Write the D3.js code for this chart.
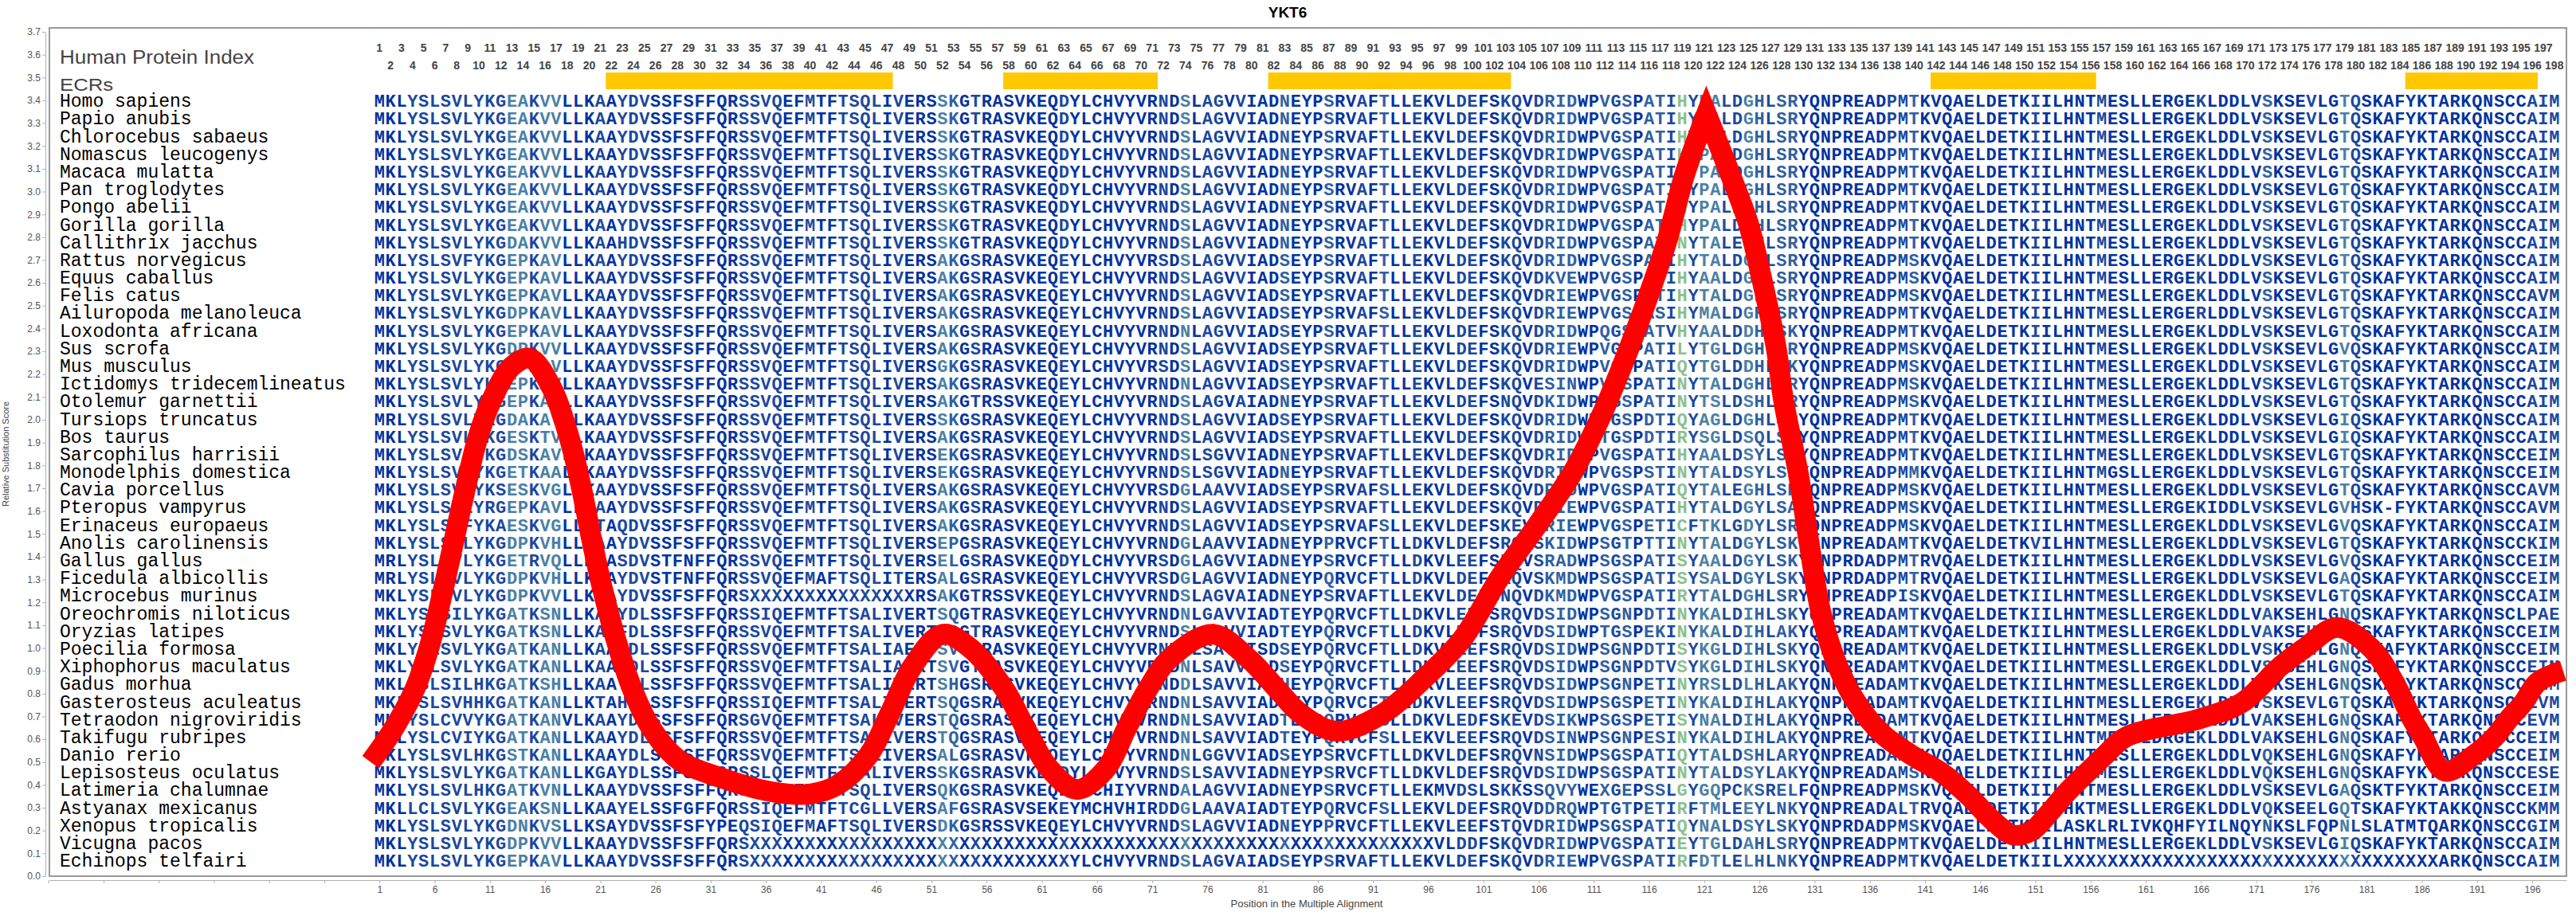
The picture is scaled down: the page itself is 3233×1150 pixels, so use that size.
<!DOCTYPE html>
<html><head><meta charset="utf-8">
<script src="https://cdn.jsdelivr.net/npm/d3@7"></script>
<style>body{margin:0;background:#fff}</style>
</head><body>
<svg id="chart" width="3233" height="1150" xmlns="http://www.w3.org/2000/svg"></svg>
<script>
const chartTitle = "YKT6";
const xAxisTitle = "Position in the Multiple Alignment";
const yAxisTitle = "Relative Substitution Score";

const species = ["Homo sapiens","Papio anubis","Chlorocebus sabaeus","Nomascus leucogenys","Macaca mulatta",
"Pan troglodytes","Pongo abelii","Gorilla gorilla","Callithrix jacchus","Rattus norvegicus","Equus caballus",
"Felis catus","Ailuropoda melanoleuca","Loxodonta africana","Sus scrofa","Mus musculus","Ictidomys tridecemlineatus",
"Otolemur garnettii","Tursiops truncatus","Bos taurus","Sarcophilus harrisii","Monodelphis domestica","Cavia porcellus",
"Pteropus vampyrus","Erinaceus europaeus","Anolis carolinensis","Gallus gallus","Ficedula albicollis","Microcebus murinus",
"Oreochromis niloticus","Oryzias latipes","Poecilia formosa","Xiphophorus maculatus","Gadus morhua","Gasterosteus aculeatus",
"Tetraodon nigroviridis","Takifugu rubripes","Danio rerio","Lepisosteus oculatus","Latimeria chalumnae","Astyanax mexicanus",
"Xenopus tropicalis","Vicugna pacos","Echinops telfairi"];

const H1 = "MKLYSLSVLYKGEAKVVLLKAAYDVSSFSFFQRSSVQEFMTFTSQLIVE";
const H2 = "RSSKGTRASVKEQDYLCHVYVRNDSLAGVVIADNEYPSRVAFTLLEKVLD";
const H3 = "EFSKQVDRIDWPVGSPATIHYPALDGHLSRYQNPREADPMTKVQAELDE";
const H4 = "TKIILHNTMESLLERGEKLDDLVSKSEVLGTQSKAFYKTARKQNSCCAIM";
const HUMAN = H1 + H2 + H3 + H4;

const sequences = [
HUMAN, HUMAN, HUMAN, HUMAN, HUMAN, HUMAN, HUMAN, HUMAN,
"MKLYSLSVLYKGDAKVVLLKAAHDVSSFSFFQRSSVQEFMTFTSQLIVE" + H2 + "EFSKQVDRIDWPVGSPATINYTALEGHLSRYQNPREADPMTKVQAELDE" + H4,
"MKLYSLSVFYKGEPKAVLLKAAYDVSSFSFFQRSSVQEFMTFTSQLIVE" + "RSAKGSRASVKEQEYLCHVYVRSDSLAGVVIADSEYPSRVAFTLLEKVLD" + "EFSKQVDRIDWPVGSPATIHYTALDGHLSRYQNPREADPMSKVQAELDE" + H4,
"MKLYSLSVLYKGEPKAVLLKAAYDVSSFSFFQRSSVQEFMTFTSQLIVE" + "RSAKGSRASVKEQEYLCHVYVRNDSLAGVVIADSEYPSRVAFTLLEKVLD" + "EFSKQVDKVEWPVGSPATIHYAALDGHLSRYQNPREADPMSKVQAELDE" + H4,
"MKLYSLSVLYKGEPKAVLLKAAYDVSSFSFFQRSSVQEFMTFTSQLIVE" + "RSAKGSRASVKEQEYLCHVYVRNDSLAGVVIADSEYPSRVAFTLLEKVLD" + "EFSKQVDRIEWPVGSPATIHYTALDGHLSRYQNPREADPMSKVQAELDE" + "TKIILHNTMESLLERGEKLDDLVSKSEVLGTQSKAFYKTARKQNSCCAVM",
"MKLYSLSVLYKGDPKAVLLKAAYDVSSFSFFQRSSVQEFMTFTSQLIVE" + "RSAKGSRASVKEQEYLCHVYVRNDSLAGVVIADSEYPSRVAFSLLEKVLD" + "EFSKQVDRIEWPVGSPASIHYMALDGHLSRYQNPREADPMTKVQAELDE" + "TKIILHNTMESLLERGERLDDLVSKSEVLGTQSKAFYKTARKQNSCCAIM",
"MKLYSLSVLYKGEPKAVLLKAAYDVSSFSFFQRSSVQEFMTFTSQLIVE" + "RSAKGSRASVKEQEYLCHVYVRNDNLAGVVIADSEYPSRVAFTLLEKVLD" + "EFSKQVDRIDWPQGSPATVHYAALDDHLSKYQNPREADPMTKVQAELDE" + H4,
"MKLYSLSVLYKGDPKVVLLKAAYDVSSFSFFQRSSVQEFMTFTSQLIVE" + "RSAKGSRASVKEQEYLCHVYVRNDSLAGVVIADSEYPSRVAFTLLEKVLD" + "EFSKQVDRIEWPVGSPATILYTGLDGHLSRYQNPREADPMSKVQAELDE" + "TKIILHNTMESLLERGEKLDDLVSKSEVLGVQSKAFYKTARKQNSCCAIM",
"MKLYSLSVLYKGDPKAVLLKAAYDVSSFSFFQRSSVQEFMTFTSQLIVE" + "RSGKGSRASVKEQEYLCHVYVRSDSLAGVVIADSEYPSRVAFTLLEKVLD" + "EFSKQVDRIDWPVGSPATIQYTGLDDHLSKYQNPREADPMSKVQAELDE" + H4,
"MKLYSLSVLYKSEPKAVLLKAAYDVSSFSFFQRSSVQEFMTFTSQLIVE" + "RSAKGSRASVKEQEYLCHVYVRNDNLAGVVIADSEYPSRVAFTLLEKVLD" + "EFSKQVESINWPVGSPATINYTALDGHLSRYQNPREADPMSKVQAELDE" + H4,
"MKLYSLSVLYKGEPKAVLLKAAYDVSSFSFFQRSSVQEFMTFTSQLIVE" + "RSAKGTRSSVKEQEYLCHVYVRNDSLAGVAIADNEYPSRVAFTLLEKVLD" + "EFSNQVDKIDWPVGSPATINYTSLDSHLSRYQNPREADPMSKVQAELDE" + H4,
"MRLYSLSVLYKGDAKAVLLKAAYDVSSFSFFQRSSVQEFMTFTSQLIVE" + "RSSKGSRASVKEQEYLCHVYVRNDSLAGVVIADSEYPSRVAFTLLEKVLD" + "EFSKQVDRIDWPVGSPDTIQYAGLDGHLSRYQNPREADPMTKVQAELDE" + "TKIILHNTMESLLERGEKLDDLVSKSEVLGIQSKAFYKTARKQNSCCAIM",
"MKLYSLSVLYKGESKTVLLKAAYDVSSFSFFQRSSVQEFMTFTSQLIVE" + "RSAKGSRASVKEQEYLCHVYVRNDSLAGVVIADSEYPSRVAFTLLEKVLD" + "EFSKQVDRIDWPTGSPDTIRYSGLDSQLSRYQNPREADPMTKVQAELDE" + "TKIILHNTMESLLERGEKLDDLVSKSEVLGIQSKAFYKTARKQNSCCAIM",
"MKLYSLSVLYKGDSKAVLLKAAYDVSSFSFFQRSSVQEFMTFTSQLIVE" + "RSEKGSRASVKEQEYLCHVYVRNDSLSGVVIADNEYPSRVAFTLLEKVLD" + "EFSKQVDRIDWPVGSPATIHYAALDSYLSRYQNPREADPMTKVQAELDE" + "TKIILHNTMESLLERGEKLDDLVSKSEVLGTQSKAFYKTARKQNSCCEIM",
"MKLYSLSVLYKGETKAALLKAAYDVSSFSFFQRSSVQEFMTFTSQLIVE" + "RSEKGSRASVKEQEYLCHVYVRNDSLSGVVIADNEYPSRVAFTLLEKVLD" + "EFSKQVDRIDWPVGSPSTINYTALDSYLSRYQNPREADPMMKVQAELDE" + "TKIILHNTMGSLLERGEKLDDLVSKSEVLGTQSKAFYKTARKQNSCCEIM",
"MKLYSLSVLYKSESKVGLLKAAYDVSSFSFFQRSSVQEFMTFTSQLIVE" + "RSAKGSRASVKEQEYLCHVYVRSDGLAAVVIADSEYPSRVAFSLLEKVLD" + "EFSKQVDRIDWPVGSPATIQYTALEGHLSRYQNPREADPMSKVQAELDE" + "TKIILHNTMESLLERGEKLDDLVSKSEVLGTQSKAFYKTARKQNSCCAVM",
"MKLYSLSVLYRGEPKAVLLKAAYDVSSFSFFQRSSVQEFMTFTSQLIVE" + "RSAKGSRASVKEQEYLCHVYVRNDSLAGVVIADSEYPSRVAFTLLEKVLD" + "EFSKQVDRIEWPVGSPATIHYTALDGYLSAYQNPREADPMSKVQAELDE" + "TKIILHNTMESLLERGEKIDDLVSKSEVLGVHSK-FYKTARKQNSCCAVM",
"MKLYSLSVFYKAESKVGLLKTAQDVSSFSFFQRSSVQEFMTFTSQLIVE" + "RSAKGSRASVKEQEYLCHVYVRNDSLAGVVIADSEYPSRVAFSLLEKVLD" + "EFSKEVDRIEWPVGSPETICFTKLGDYLSRYQNPREADPMSKVQAELDE" + "TKIILHNTMESLLERGEKLDDLVSKSEVLGVQSKAFYKTARKQNSCCAIM",
"MKLYSLSVLYKGDPKVHLLKAAYDVSSFSFFQRSSVQEFMTFTSQLIVE" + "RSEPGSRASVKEQEYLCHVYVRNDGLAAVVIADNEYPPRVCFTLLDKVLD" + "EFSRQVSKIDWPSGTPTTINYTALDGYLSKYQNPREADAMTKVQAELDE" + "TKVILHNTMESLLERGEKLDDLVSKSEVLGTQSKAFYKTARKQNSCCKIM",
"MRLYSLSVLYKGETRVQLLKAASDVSTFNFFQRSSVQEFMTFTSQLIVE" + "RSELGSRASVKEQDYLCHVYVRSDGLAGVVIADNEYPSRVCFTLLDKVLE" + "EFSRQVSRADWPSGSPATISYAALDGYLSKYQNPRDADPMTRVQAELDE" + "TKIILHNTMESLLERGEKLDDLVSKSEVLGVQSKAFYKTARKQNSCCEIM",
"MRLYSLSVLYKGDPKVHLLKAAYDVSTFNFFQRSSVQEFMAFTSQLITE" + "RSALGSRASVKEQEYLCHVYVRSDGLAGVVIADNEYPQRVCFTLLDKVLD" + "EFSRQVSKMDWPSGSPATISYSALDGYLSKYQNPRDADPMTRVQAELDE" + "TKIILHNTMESLLERGEKLDDLVSKSEVLGAQSKAFYKTARKQNSCCEIM",
"MKLYSLSVLYKGDPKVVLLKAAYDVSSFSFFQRS" + "XXXXXXXXXXXXXXX" + "RSAKGTRSSVKEQEYLCHVYVRNDSLAGVAIADNEYPSRVAFTLLEKVLD" + "EFSNQVDKMDWPVGSPATIRYTALDGHLSRYQNPREADPISKVQAELDE" + H4,
"MKLYSLSILYKGATKSNLLKAAYDLSSFSFFQRSSIQEFMTFTSALIVE" + "RTSQGTRASVKEQEYLCHVYVRNDNLGAVVIADTEYPQRVCFTLLDKVLE" + "EFSRQVDSIDWPSGNPDTINYKALDIHLSKYQNPREADAMTKVQAELDE" + "TKIILHNTMESLLERGEKLDDLVAKSEHLGNQSKAFYKTARKQNSCLPAE",
"MKLYSLSVLYKGATKSNLLKAAFDLSSFSFFQRSSVQEFMTFTSALIVE" + "RTSQGTRASVKEQEYLCHVYVRNDSLGAVVIADTEYPQRVCFTLLDKVLD" + "EFSRQVDSIDWPTGSPEKINYKALDIHLAKYQNPREADAMTKVQAELDE" + "TKIILHNTMESLLERGEKLDDLVAKSEHLGNQSKAFYKTARKQNSCCEIM",
"MKLYSLSVLYKGATKANLLKAAYDLSSFSFFQRSSVQEFMTFTSALIAE" + "RTSVGTRASVKEQEYLCHVYVRNDNLSAVVISDSEYPQRVCFTLLDKVLE" + "EFSRQVDSIDWPSGNPDTISYKGLDIHLSKYQNPREADAMTKVQAELDE" + "TKIILHNTMESLLERGEKLDDLVSKSEHLGNQSKAFYKTARKQNSCCEIM",
"MKLYSLSVLYKGATKANLLKAAYDLSSFSFFQRSSVQEFMTFTSALIAE" + "RTSVGTRASVKEQEYLCHVYVRNDNLSAVVISDSEYPQRVCFTLLDKVLE" + "EFSRQVDSIDWPSGNPDTVSYKGLDIHLSKYQNPREADAMTKVQAELDE" + "TKIILHNTMESLLERGEKLDDLVSKSEHLGNQSKAFYKTARKQNSCCEIM",
"MKLFSLSILHKGATKSHLLKAAYDLSSFSFFQRSSVQEFMTFTSALIVE" + "RTSHGSRASVKEQEYLCHVYVRNDDLSAVVIADHEYPQRVCFTLLDKVLE" + "EFSRQVDSIDWPSGNPETINYRSLDLHLAKYQNPKEADAMTKVQAELDE" + "TKIILHNTMESLLERGEKLDDLVAKSEHLGNQSKAFYKTARKQNSCCEIM",
"MKLYSLSVHHKGATKANLLKTAHDLSSFSFFQRSSIQEFMTFTSALIVE" + "RTSQGSRASVKEQEYLCHVYVRNDNLSAVVIADTEYPQRVCFTLLDKVLE" + "EFSRQVDSIDWPSGSPETINYKALDIHLAKYQNPREADAMTKVQAELDE" + "TKIILHNTMESLLERGEKLDDLVSKSEVLGTQSKAFYKTARKQNSCCEVM",
"MKLYSLCVVYKGATKANVLKAAYDLSSFSFFQRSGVQEFMTFTSALIVE" + "RSTQGSRASVKEQEYLCHVYVRNDNLSAVVIADTEYPQRVCFSLLDKVLE" + "DFSKEVDSIKWPSGSPETISYNALDIHLAKYQNPREADAMTKVQAELDE" + "TKIILHNTMESLLERGEKLDDLVAKSEHLGNQSKAFYKTARKQNSCCEVM",
"MKLYSLCVIYKGATKANLLKAAYDLSSFSFFQRSSVQEFMTFTSALIVE" + "RSTQGSRASVKEQEYLCHVYVRNDNLSAVVIADTEYPQRVCFSLLEKVLE" + "EFSRQVDSINWPSGNPESINYKALDIHLAKYQNPREADAMTKVQAELDE" + "TKIILHNTMESLLDRGEKLDDLVAKSEHLGNQSKAFYKTARKQNSCCEIM",
"MKLYSLSVLHKGSTKANLLKAAYDLSSFSFFQRSSVQEFMTFTSALIVE" + "RSALGSRASVKEQEYLCHVYVRNDNLGGVVIADSEYPSRVCFTLLDKVLD" + "EFSRQVNSIDWPSGSPATIQYTALDSHLARYQNPREADAMTKVQAELDE" + "TKIILHNTMESLLERGEKLDDLVQKSEHLGNQSKAFYKTARKQNSCCEIM",
"MKLYSLSVLYKGATKANLLKGAYDLSSFSFFQRSSLQEFMTFTSALIVE" + "RSSKGSRASVKEQDYLCHVYVRNDSLSAVVIADNEYPSRVCFTLLDKVLD" + "EFSRQVDSIDWPSGSPATINYTALDSYLAKYQNPREADAMSKVQAELDE" + "TKIILHNTMESLLERGEKLDDLVQKSEHLGNQSKAFYKTARKQNSCCESE",
"MKLYSLSVLHKGATKVNLLKAAYDVSSFSFFQRSSVQEFMTFTSQLIVE" + "RSQKGSRASVKEQEYLCHIYVRNDALAGVVIADNEYPSRVCFTLLEKMVD" + "SLSKKSSQVYWEXGEPSSLGYGQPCKSRELFQNPREADPMSKVQAELDE" + "TKIILHNTMESLLERGEKLDDLVSKSEVLGAQSKTFYKTARKQNSCCEIM",
"MKLLCLSVLYKGEAKSNLLKAAYELSSFGFFQRSSIQEFMTFTCGLLVE" + "RSAFGSRASVSEKEYMCHVHIRDDGLAAVAIADTEYPQRVCFSLLEKVLD" + "EFSRQVDDRQWPTGTPETIRFTMLEEYLNKYQNPREADALTRVQAEVDE" + "TKIILHKTMESLLERGEKLDDLVQKSEELGQTSKAFYKTAKKQNSCCKMM",
"MKLYSLSVLYKGDNKVSLLKSAYDVSSFSFYPEQSIQEFMAFTSQLIVE" + "RSDKGSRSSVKEQEYLCHVYVRNDSLAGVVIADNEYPPRVCFTLLEKVLE" + "EFSTQVDRIDWPSGSPATIQYNALDSYLSKYQNPRDADPMSKVQAELDE" + "TKIILASKLRLIVKQHFYILNQYNKSLFQPNLSLATMTQARKQNSCCGIM",
"MKLYSLSVLYKGDPKVVLLKAAYDVSSFSFFQRS" + "XXXXXXXXXXXXXXX" + "XXXXXXXXXXXXXXXXXXXXXXXXXXXXXXXXXXXXXXXXXXXXXXX" + "VLD" + "DFSKQVDRIDWPVGSPATIEYTGLDAHLSRYQNPREADPMTKVQAELDE" + "TKIILHNTMESLLERGEKLDDLVSKSEVLGIQSKAFYKTARKQNSCCAIM",
"MKLYSLSVLYKGEPKAVLLKAAYDVSSFSFFQRS" + "XXXXXXXXXXXXXXX" + "XXXXXXXXXXXXXX" + "YLCHVYVRNDSLAGVAIADSEYPSRVAFTLLEKVLD" + "EFSKQVDRIEWPVGSPATIRFDTLELHLNKYQNPREADPMTKVQAELDE" + "TKIIL" + "XXXXXXXXXXXXXXXXXXXXXXXXXXXXXXXXXX" + "ARKQNSCCAIM"
];

// conservation shade per alignment column (0 = most conserved ... 4 = green)
const columnShade =
"0001111111" + "1133133000" + "1011100000" + "0001111001" + "0011110100" +
"0320100000" + "0010000000" + "0103011010" + "0020002001" + "0200100011" +
"0011012220" + "0212022141" + "3311321220" + "0000000112" + "0000000000" +
"1000001000" + "0000010000" + "0200010031" + "0000000000" + "00000111";
const shadeColors = ["#0033a0", "#1a48a0", "#2f60a3", "#4a80a6", "#8cbf8c"];

const ecrStart = [22, 58, 82, 142, 185];
const ecrEnd   = [47, 71, 103, 156, 196];

// relative substitution score curve (position, score)
const curvePos = [0.2,2.2,4.2,5.6,6.7,7.7,8.7,9.9,11.2,12.9,14.6,16.6,18.2,19.3,20.2,21.2,22.4,23.9,25.6,28.1,32,36.5,40,42.5,45.3,47.2,49.3,52,54.5,57.6,59.5,61.7,64.2,66.8,68.7,70.6,72.5,76.5,79.8,82.3,84.5,87.7,91.8,95.7,99.1,102.5,105.9,109.1,111.6,113.6,115.4,117.6,119.2,121.2,
123.4,125,126.2,127.5,128.2,129.5,130.5,131.6,133.1,134.8,137.2,139.8,142.6,145,147,149,150.7,152.3,153.9,155.8,157.3,159.2,165.9,169.7,173.2,175.4,178.3,181.4,183.5,185.1,186.1,188.1,190.7,192.6,193.9,195.2,196.5,198.8];
const curveScore = [0.50,0.64,0.82,1.02,1.24,1.46,1.68,1.92,2.09,2.23,2.27,2.14,1.92,1.70,1.48,1.26,1.04,0.82,0.65,0.51,0.43,0.37,0.36,0.40,0.53,0.71,0.92,1.06,1.00,0.82,0.65,0.47,0.38,0.47,0.65,0.82,0.95,1.06,0.95,0.82,0.71,0.635,0.71,0.87,1.04,1.31,1.54,1.77,2.01,2.24,2.47,2.78,3.07,3.34,
3.07,2.86,2.62,2.32,2.08,1.77,1.46,1.15,0.92,0.76,0.62,0.53,0.45,0.35,0.25,0.18,0.20,0.28,0.37,0.46,0.53,0.61,0.69,0.76,0.92,1.00,1.09,1.00,0.85,0.69,0.61,0.46,0.53,0.61,0.69,0.76,0.85,0.90];
const peakIndex = 53;

const yTicks = d3.range(0, 38).map(i => i / 10);
const xTicks = d3.range(-29, 199, 5);
const indexNumbers = d3.range(1, 199);

// ---------- drawing ----------
const svg = d3.select("#chart");
const W = 3233, H = 1150;
const frame = {left: 62, right: 3221, top: 35, bottom: 1100};

const x = d3.scaleLinear().domain([-28.9, 199.1]).range([frame.left, frame.right]);
const y = d3.scaleLinear().domain([0, 3.7]).range([frame.bottom, 40]);
const row = d3.scalePoint().domain(species).range([126.7, 1080.7]);

svg.append("rect").attr("width", W).attr("height", H).attr("fill", "#fff");

svg.append("text").attr("x", 1616).attr("y", 22).attr("text-anchor", "middle")
  .attr("font-family", "Liberation Sans, Arial, sans-serif").attr("font-weight", "bold")
  .attr("font-size", 19).attr("fill", "#000").text(chartTitle);

svg.append("rect").attr("x", frame.left).attr("y", frame.top)
  .attr("width", frame.right - frame.left).attr("height", frame.bottom - frame.top)
  .attr("fill", "none").attr("stroke", "#808080").attr("stroke-width", 1.6);

const yAxis = svg.append("g").attr("transform", "translate(57,0)")
  .call(d3.axisLeft(y).tickValues(yTicks).tickFormat(d3.format(".1f")).tickSize(4).tickSizeOuter(0));
yAxis.select(".domain").attr("stroke", "#b0b0b0");
yAxis.selectAll(".tick line").attr("stroke", "#b0b0b0");
yAxis.selectAll(".tick text").attr("font-family", "Liberation Sans, Arial, sans-serif")
  .attr("font-size", 12).attr("fill", "#555").attr("x", -6);

const xAxis = svg.append("g").attr("transform", "translate(0,1105)")
  .call(d3.axisBottom(x).tickValues(xTicks).tickFormat(d => d >= 1 ? d : "").tickSize(4).tickSizeOuter(0));
xAxis.select(".domain").attr("stroke", "#b0b0b0");
xAxis.selectAll(".tick line").attr("stroke", "#b0b0b0");
xAxis.selectAll(".tick text").attr("font-family", "Liberation Sans, Arial, sans-serif")
  .attr("font-size", 12).attr("fill", "#555");

svg.append("text").attr("x", 1640).attr("y", 1139).attr("text-anchor", "middle")
  .attr("font-family", "Liberation Sans, Arial, sans-serif").attr("font-size", 13).attr("fill", "#444")
  .text(xAxisTitle);
svg.append("text").attr("transform", "translate(11,570) rotate(-90)").attr("text-anchor", "middle")
  .attr("font-family", "Liberation Sans, Arial, sans-serif").attr("font-size", 11).attr("fill", "#444")
  .text(yAxisTitle);

svg.append("text").attr("transform", "translate(75,80) scale(1.13,1)")
  .attr("font-family", "Liberation Sans, Arial, sans-serif").attr("font-size", 23).attr("fill", "#444")
  .text("Human Protein Index");
svg.append("text").attr("transform", "translate(75,114) scale(1.12,1)")
  .attr("font-family", "Liberation Sans, Arial, sans-serif").attr("font-size", 23).attr("fill", "#444")
  .text("ECRs");

svg.append("g").selectAll("text").data(indexNumbers).join("text")
  .attr("x", d => x(d)).attr("y", d => d % 2 === 1 ? 65 : 87)
  .attr("text-anchor", "middle").attr("font-family", "Liberation Sans, Arial, sans-serif")
  .attr("font-weight", "bold").attr("font-size", 14).attr("fill", "#444").text(d => d);

svg.append("g").selectAll("rect").data(ecrStart.map((s, i) => [s, ecrEnd[i]])).join("rect")
  .attr("x", d => x(d[0] - 0.5)).attr("width", d => x(d[1] + 0.5) - x(d[0] - 0.5))
  .attr("y", 91).attr("height", 21).attr("fill", "#ffc800");

svg.append("g").selectAll("text").data(species).join("text")
  .attr("x", 75).attr("y", d => row(d) + 7.5)
  .attr("font-family", "Liberation Mono, DejaVu Sans Mono, monospace").attr("font-size", 23)
  .attr("fill", "#000").text(d => d);

const cells = [];
species.forEach((sp, i) => {
  let s = sequences[i] || "";
  if (s.length < 198) s = s + "-".repeat(198 - s.length);
  for (let p = 1; p <= 198; p++) cells.push({sp, p, ch: s[p - 1]});
});
svg.append("g").attr("font-family", "Liberation Mono, DejaVu Sans Mono, monospace")
  .attr("font-weight", "bold").attr("font-size", 22).attr("text-anchor", "middle")
  .selectAll("text").data(cells).join("text")
  .attr("x", d => x(d.p)).attr("y", d => row(d.sp) + 7.5)
  .attr("fill", d => shadeColors[+columnShade[d.p - 1] || 0])
  .text(d => d.ch);

const pts = curvePos.map((p, i) => [p, curveScore[i]]);
const lineGen = d3.line().x(d => x(d[0])).y(d => y(d[1])).curve(d3.curveCatmullRom.alpha(0.5));
const leftPath = lineGen(pts.slice(0, peakIndex + 1));
const rightPath = lineGen(pts.slice(peakIndex)).replace(/^M[^A-Za-z]*/, "");
svg.append("path").attr("d", leftPath + rightPath)
  .attr("fill", "none").attr("stroke", "#ff0000").attr("stroke-width", 26)
  .attr("stroke-linecap", "butt").attr("stroke-linejoin", "miter").attr("stroke-miterlimit", 10);
</script>
</body></html>
